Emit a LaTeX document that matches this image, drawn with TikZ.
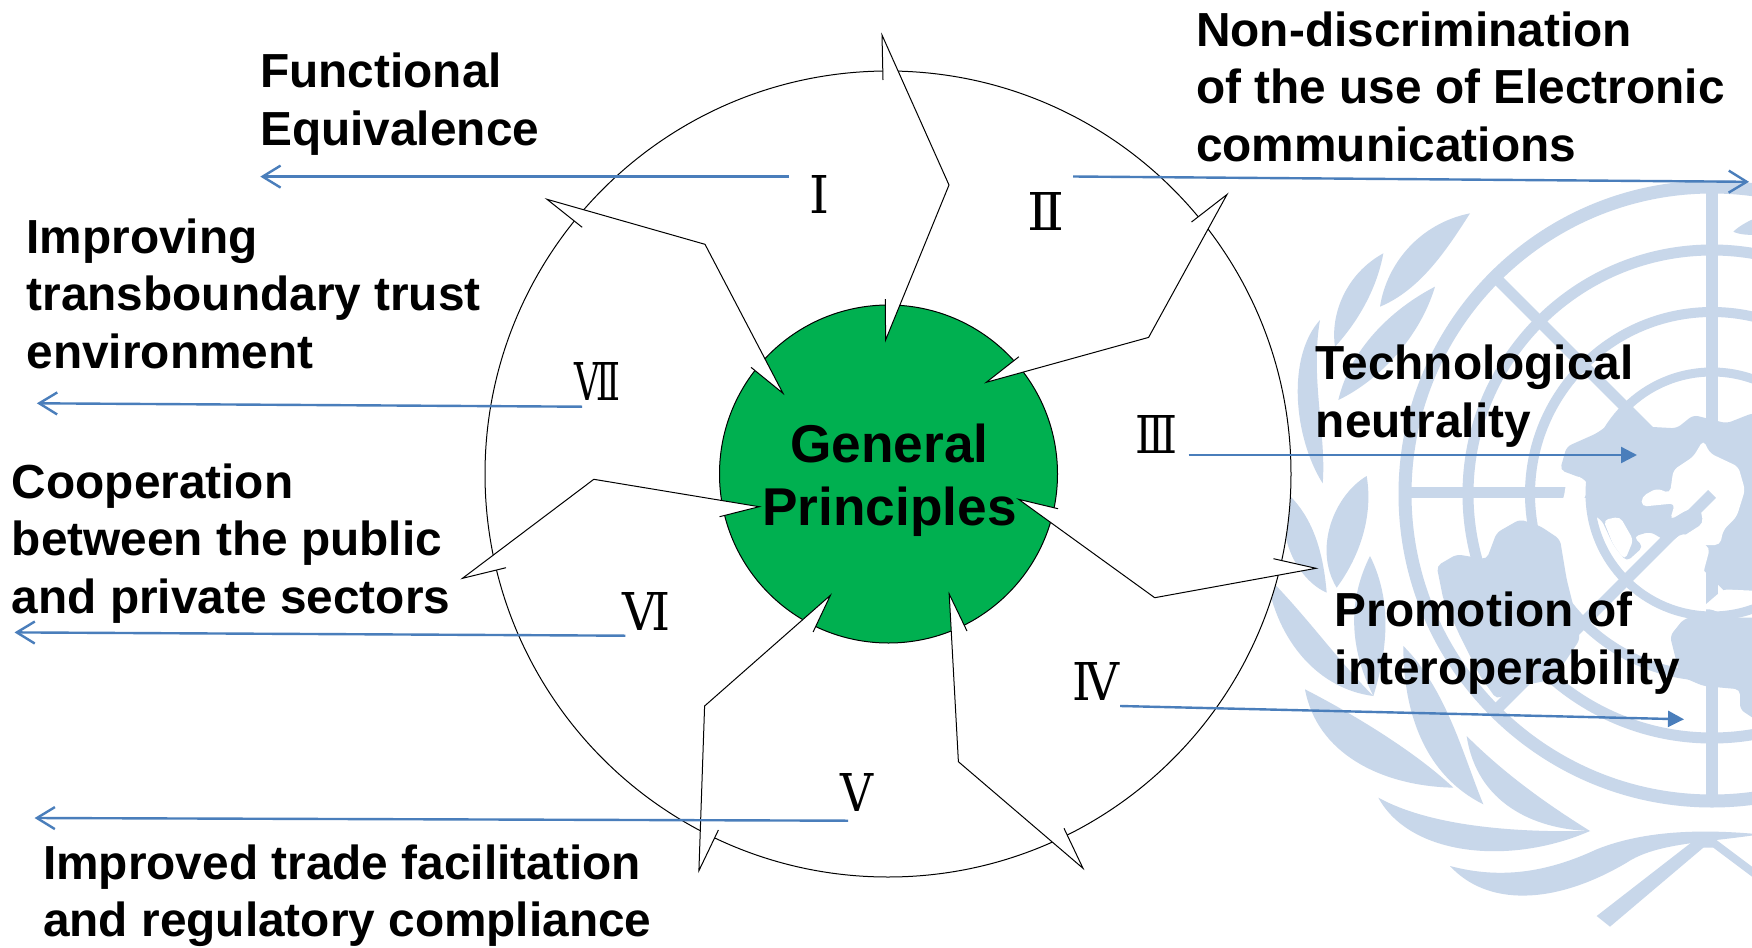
\documentclass[tikz,border=0pt]{standalone}
\usepackage{fontspec}
\usepackage{graphicx}
\setmainfont{Liberation Sans}
\newfontfamily\numfont{DejaVu Serif}
\usetikzlibrary{arrows.meta}
\definecolor{emb}{HTML}{C8D7EA}
\definecolor{linkblue}{HTML}{4A7EBB}
\definecolor{hub}{HTML}{00B050}
\tikzset{
  bound/.style={draw=black,line width=0.5pt},
  linkopen/.style={draw=linkblue,line width=1.2pt,-{Straight Barb[length=9pt,width=11pt,line width=1.2pt]}},
  linkfill/.style={draw=linkblue,line width=1.2pt,-{Triangle[length=8pt,width=8pt,fill=linkblue]}},
  lab/.style={font=\bfseries\fontsize{23.9}{28.75}\selectfont,align=left,anchor=base west,inner sep=0pt,text=black},
  hubtext/.style={font=\bfseries\fontsize{26.6}{31.8}\selectfont,align=center,inner sep=0pt,text=black},
  numeral/.style={inner sep=0pt,text=black},
  leaf/.style={fill=emb,draw=none},
  land/.style={fill=emb,draw=none,rounded corners=2.5pt},
  sea/.style={fill=white,draw=none,rounded corners=2.5pt}
}
\newcommand{\notch}[5]{%
  \fill[white] #1 -- #2 -- #3 -- #4 -- #5 -- cycle;
  \draw[bound,line join=miter] #1 -- #2 -- #3 -- #4 -- #5;}
\newcommand{\rnum}[3]{\resizebox{#1pt}{#2pt}{\numfont #3}}
\begin{document}
\begin{tikzpicture}[x=0.5pt,y=-0.5pt]
\useasboundingbox (0,0) rectangle (1752,948);
\fill[white] (0,0) rectangle (1752,948);
% ---- emblem ----
\begin{scope}
\clip (0,0) rectangle (1752,948);
\foreach \r/\w in {307/6.5,244/5.5,182/5}{
  \draw[emb,line width=\w pt] (1712,494) circle [radius=\r];
}
\draw[emb,line width=6pt] (1712,186) -- (1712,802);
\draw[emb,line width=5.5pt] (1406,492) -- (1712,492);
\draw[emb,line width=5.5pt] (1496,278) -- (1712,494);
\begin{scope}[shift={(1280,170)},scale=0.33333]
\path[land] (840,900) -- (860,830) -- (950,790) -- (1040,725) -- (1100,770) -- (1190,775) -- (1240,735) -- (1340,760) -- (1416,730) -- (1440,730) -- (1440,1310) -- (1340,1270) -- (1260,1190) -- (1200,1165) -- (1170,1120) -- (1110,1085) -- (1060,1100) -- (1090,1130) -- (1040,1175) -- (1000,1125) -- (965,1050) -- (930,1030) -- (920,930) -- (880,915) -- cycle;
\path[sea] (1270,810) -- (1290,850) -- (1375,890) -- (1395,960) -- (1370,1040) -- (1330,1080) -- (1320,1125) -- (1240,1125) -- (1200,1105) -- (1270,1060) -- (1260,1010) -- (1220,1020) -- (1170,1050) -- (1185,1000) -- (1085,1010) -- (1085,980) -- (1130,955) -- (1170,970) -- (1180,900) -- (1240,860) -- cycle;
\path[sea] (970,1050) -- (1020,1040) -- (1060,1110) -- (1035,1170) -- (1000,1125) -- cycle;
\path[sea] (860,930) -- (900,915) -- (925,960) -- (890,1030) -- (880,1075) -- (830,1085) -- (805,1030) -- (850,990) -- cycle;
\end{scope}
\begin{scope}[shift={(1280,476)},scale=0.33333]
\path[land] (470,270) -- (530,235) -- (620,250) -- (650,170) -- (720,130) -- (780,150) -- (840,190) -- (860,310) -- (880,390) -- (900,490) -- (820,610) -- (720,630) -- (650,670) -- (600,600) -- (540,480) -- (490,370) -- cycle;
\path[sea] (1080,290) -- (1130,230) -- (1210,170) -- (1290,215) -- (1270,290) -- (1280,320) -- (1250,350) -- (1200,430) -- (1170,480) -- (1060,470) -- (980,400) -- (1040,340) -- cycle;
\path[land] (1170,480) -- (1210,430) -- (1300,405) -- (1440,425) -- (1440,740) -- (1380,700) -- (1380,640) -- (1270,630) -- (1200,600) -- cycle;
\path[sea] (1260,400) -- (1330,340) -- (1440,345) -- (1440,425) -- (1340,425) -- (1300,400) -- cycle;
% leaves lower
\fill[leaf] (75,640) .. controls (110,830) and (300,930) .. (520,935) .. controls (420,840) and (250,730) .. (75,640) -- cycle;
\fill[leaf] (370,510) .. controls (370,720) and (440,900) .. (610,985) .. controls (550,840) and (500,640) .. (370,510) -- cycle;
\fill[leaf] (560,780) .. controls (590,980) and (760,1060) .. (930,1065) .. controls (810,990) and (680,900) .. (560,780) -- cycle;
\fill[leaf] (295,965) .. controls (390,1140) and (690,1170) .. (930,1065) .. controls (700,1070) and (450,1050) .. (295,965) -- cycle;
\fill[leaf] (510,1170) .. controls (620,1290) and (820,1290) .. (1040,1160) .. controls (1130,1100) and (1280,1100) .. (1440,1075) .. controls (1280,1060) and (1100,1060) .. (950,1120) .. controls (800,1190) and (660,1210) .. (510,1170) -- cycle;
\fill[leaf] (950,1320) -- (1240,1095) -- (1300,1085) -- (1440,1190) -- (1440,1220) -- (1300,1115) -- (1270,1115) -- (990,1352) -- cycle;
\fill[leaf] (270,240) .. controls (330,360) and (330,500) .. (280,660) .. controls (200,500) and (210,360) .. (270,240) -- cycle;
\fill[leaf] (-40,300) .. controls (-10,500) and (120,640) .. (280,660) .. controls (170,550) and (80,420) .. (-40,300) -- cycle;
\fill[leaf] (30,60) .. controls (-20,170) and (50,310) .. (140,350) .. controls (130,230) and (100,130) .. (30,60) -- cycle;
\fill[leaf] (260,0) .. controls (160,60) and (100,220) .. (170,335) .. controls (240,240) and (280,120) .. (260,0) -- cycle;
\end{scope}
\begin{scope}[shift={(1280,170)},scale=0.33333]
\fill[leaf] (570,130) .. controls (420,160) and (320,280) .. (300,410) .. controls (420,360) and (500,240) .. (570,130) -- cycle;
\fill[leaf] (310,250) .. controls (200,310) and (150,430) .. (165,530) .. controls (230,460) and (290,360) .. (310,250) -- cycle;
\fill[leaf] (465,350) .. controls (330,420) and (210,540) .. (175,690) .. controls (300,630) and (420,500) .. (465,350) -- cycle;
\fill[leaf] (120,450) .. controls (20,560) and (40,800) .. (128,940) .. controls (140,800) and (90,620) .. (120,450) -- cycle;
\fill[leaf] (1360,185) .. controls (1380,165) and (1420,145) .. (1440,140) -- (1440,195) .. controls (1410,195) and (1380,195) .. (1360,185) -- cycle;
\end{scope}
% ring and diagonal over the seas
\draw[emb,line width=4.5pt] (1712,494) circle [radius=122];
\draw[emb,line width=5.5pt] (1712,494) -- (1496,710);
\draw[emb,line width=6pt] (1712,640) -- (1712,802);
\end{scope}
% ---- wheel ----
\draw[bound,fill=white] (888,474) circle [radius=403];
\draw[bound,fill=hub] (888.5,474) circle [radius=169];
\notch{(883,80)}{(882,35)}{(949,185)}{(885.6,340)}{(885.3,299)}
\notch{(1191.5,222)}{(1227,194.5)}{(1148.6,337.4)}{(986.3,382.3)}{(1018.9,356.7)}
\notch{(1273.5,558.7)}{(1316,568.3)}{(1154.7,597.7)}{(1018.6,499.3)}{(1058,508.7)}
\notch{(1064,828.3)}{(1083,868.3)}{(958.4,761.7)}{(949.2,594)}{(967,631)}
\notch{(718.4,830)}{(698.9,870.7)}{(704.6,706)}{(830.4,595.3)}{(813.1,632)}
\notch{(506,567.7)}{(462.5,578.3)}{(593.8,479.3)}{(759.2,506.7)}{(719.6,516.7)}
\notch{(582.2,227.3)}{(547,199.3)}{(705,244.3)}{(783,393.3)}{(751,367.3)}
% ---- numerals ----
\node[numeral] (n1) at (819,194.5) {\rnum{10}{19}{Ⅰ}};
\node[numeral] (n2) at (1045.5,211) {\rnum{18.5}{19}{Ⅱ}};
\node[numeral] (n3) at (1156,434) {\rnum{21}{19}{Ⅲ}};
\node[numeral] (n4) at (1096,681.7) {\rnum{23.5}{19}{Ⅳ}};
\node[numeral] (n5) at (856.7,792.3) {\rnum{16.5}{19}{Ⅴ}};
\node[numeral] (n6) at (646.3,611.7) {\rnum{24}{19}{Ⅵ}};
\node[numeral] (n7) at (597.6,381) {\rnum{23}{19}{Ⅶ}};
% ---- hub ----
\node[hubtext,anchor=base] (hub1) at (889.5,462) {General};
\node[hubtext,anchor=base] (hub2) at (889.5,525.5) {Principles};
% ---- labels ----
\node[lab] (t1) at (259.8,145.2) {Functional\\Equivalence};
\node[lab] (t2) at (1195.8,161) {Non-discrimination\\of the use of Electronic\\communications};
\node[lab] (t3) at (1315.4,437) {Technological\\neutrality};
\node[lab] (t4) at (1334.4,684) {Promotion of\\interoperability};
\node[lab] (t5) at (42.8,936.5) {Improved trade facilitation\\and regulatory compliance};
\node[lab] (t6) at (11.5,613) {Cooperation\\between the public\\and private sectors};
\node[lab] (t7) at (26.2,368) {Improving\\transboundary trust\\environment};
% ---- links ----
\coordinate (s1) at (788.8,176.6); \coordinate (e1) at (260.3,176.6);
\coordinate (s2) at (1073,176.5);  \coordinate (e2) at (1749,181.8);
\coordinate (s3) at (1188.5,455);  \coordinate (e3) at (1637,455);
\coordinate (s4) at (1120.2,706);  \coordinate (e4) at (1684,719.3);
\coordinate (s5) at (848.1,820.7); \coordinate (e5) at (34.6,818);
\coordinate (s6) at (625.4,635.7); \coordinate (e6) at (14.5,632.4);
\coordinate (s7) at (582.2,406.7); \coordinate (e7) at (36.9,403.3);
\draw[linkopen] (s1) -- (e1);
\draw[linkopen] (s2) -- (e2);
\draw[linkfill] (s3) -- (e3);
\draw[linkfill] (s4) -- (e4);
\draw[linkopen] (s5) -- (e5);
\draw[linkopen] (s6) -- (e6);
\draw[linkopen] (s7) -- (e7);
\end{tikzpicture}
\end{document}
